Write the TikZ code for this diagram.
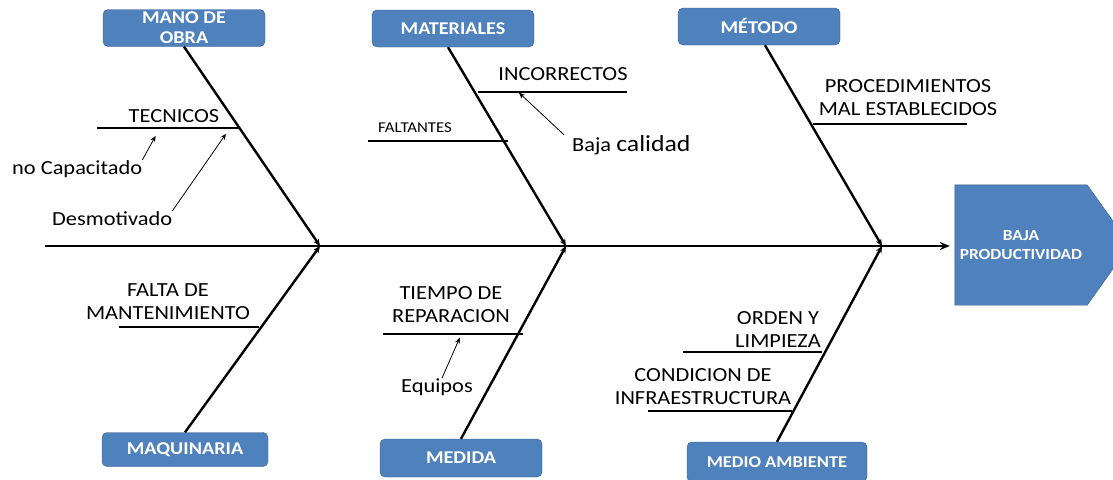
\documentclass[tikz,border=0pt]{standalone}
\usepackage{fontspec}
\setmainfont{Carlito}[FakeStretch=1.12]
\usetikzlibrary{arrows.meta, backgrounds}
\definecolor{causeblue}{RGB}{79, 129, 189}
\definecolor{causeedge}{RGB}{56, 93, 138}

\begin{document}
\begin{tikzpicture}[x=1pt, y=-1pt,
    category/.style={draw=causeedge, fill=causeblue, rounded corners=5pt, text=white,
      font=\bfseries\fontsize{18}{20}\selectfont, align=center,
      minimum width=162pt, minimum height=37pt, inner sep=1pt},
    cause/.style={font=\fontsize{20}{23}\selectfont, align=center, inner sep=0pt, anchor=south},
    note/.style={font=\fontsize{20}{23}\selectfont, inner sep=0pt, anchor=base west},
    spine/.style={line width=2.5pt, -{Stealth[length=10pt, width=8pt]}},
    bone/.style={line width=2.4pt, -{Stealth[length=7pt, width=6pt]}},
    twig/.style={line width=1.1pt},
    pointer/.style={line width=0.8pt, -{Stealth[length=6pt, width=5pt]}}]
  \clip (0,0) rectangle (1113,479);

  \node[text=white, font=\bfseries\fontsize{15.5}{19}\selectfont, align=center,
    minimum width=132pt, minimum height=120pt] (goal) at (1021,245) {BAJA\\PRODUCTIVIDAD};
  \coordinate (goal-tip) at (1130,245);
  \begin{scope}[on background layer]
    \filldraw[fill=causeblue, draw=causeedge] (goal.north west) -- (goal.north east)
      -- (goal-tip) -- (goal.south east) -- (goal.south west) -- cycle;
  \end{scope}
  \coordinate (tail) at (45,246);
  \draw[spine, shorten >=5pt] (tail) -- (tail -| goal.west);

  \coordinate (j1) at (320,246);
  \coordinate (j2) at (566,246);
  \coordinate (j3) at (882,246);

  \node[category] (mano) at (184,28) {MANO DE\\OBRA};
  \node[category] (mat) at (453,28.5) {MATERIALES};
  \node[category] (met) at (759,26.5) {MÉTODO};
  \node[category, minimum width=166pt, minimum height=34pt] (maq) at (185,449.5) {MAQUINARIA};
  \node[category, minimum height=38pt] (med) at (461,458) {MEDIDA};
  \node[category, minimum width=180pt, minimum height=40pt,
    font=\bfseries\fontsize{16.5}{20}\selectfont] (amb) at (777,462) {MEDIO AMBIENTE};

  \draw[bone] (mano.south) -- (j1);
  \draw[bone] ([xshift=-5pt]mat.south) -- (j2);
  \draw[bone] ([xshift=6pt]met.south) -- (j3);
  \draw[bone] (maq.north) -- (j1);
  \draw[bone] (med.north) -- (j2);
  \draw[bone] (amb.north) -- (j3);

  \draw[twig] (97,128) -- coordinate[pos=0.44] (tec-a) coordinate[pos=0.93] (tec-b) (240,128);
  \draw[twig] (368,141) -- (508,141);
  \draw[twig] (478,92) -- coordinate[pos=0.27] (inc-a) (627,92);
  \draw[twig] (813,124) -- (967,124);
  \draw[twig] (119,327) -- (259,327);
  \draw[twig] (383,334) -- coordinate[pos=0.56] (tiempo-a) (523,334);
  \draw[twig] (683,352) -- (822,352);
  \draw[twig] (648,411) -- (792,411);

  \node[cause] (tec) at (174,123) {TECNICOS};
  \node[cause] (inc) at (563,81) {INCORRECTOS};
  \node[cause, anchor=base west, font=\fontsize{15}{18}\selectfont] (falt) at (378,132) {FALTANTES};
  \node[cause] (proc) at (908,116) {PROCEDIMIENTOS\\MAL ESTABLECIDOS};
  \node[cause] (falta) at (168,320) {FALTA DE\\MANTENIMIENTO};
  \node[cause] (tiempo) at (451,323) {TIEMPO DE\\REPARACION};
  \node[cause] (orden) at (778,348) {ORDEN Y\\LIMPIEZA};
  \node[cause] (cond) at (703,405) {CONDICION DE\\INFRAESTRUCTURA};

  \node[note] (nocap) at (12,174) {no Capacitado};
  \node[note] (desm) at (52,225) {Desmotivado};
  \node[note] (baja) at (572,151) {Baja {\fontsize{23}{26}\selectfont calidad}};
  \node[note, anchor=base] (equ) at (437,392) {Equipos};

  \draw[pointer, shorten >=9pt] (nocap.north east) -- (tec-a);
  \draw[pointer, shorten >=7pt] (desm.north east) -- (tec-b);
  \draw[pointer, shorten >=1pt] ([xshift=-8pt]baja.north west) -- (inc-a);
  \draw[pointer, shorten >=4pt] ([xshift=5pt]equ.north) -- (tiempo-a);
\end{tikzpicture}
\end{document}
